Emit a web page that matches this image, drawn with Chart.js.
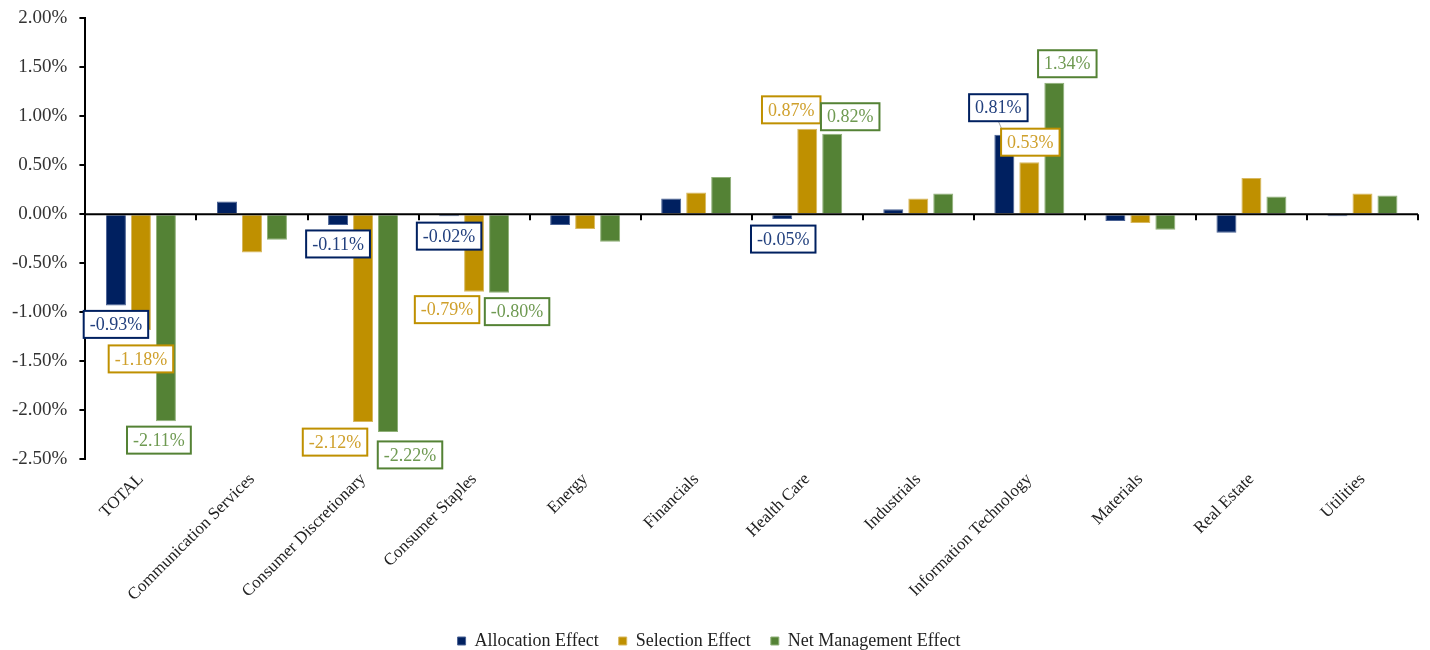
<!DOCTYPE html>
<html>
<head>
<meta charset="utf-8">
<script src="https://cdn.jsdelivr.net/npm/chart.js@4.4.1/dist/chart.umd.min.js"></script>
<style>
  html, body { margin: 0; padding: 0; background: #fff; }
  #wrap { width: 1430px; height: 650px; position: relative; }
</style>
</head>
<body>
<div id="wrap"><canvas id="attrChart"></canvas></div>
<script>
const sectors = ["TOTAL", "Communication Services", "Consumer Discretionary", "Consumer Staples",
    "Energy", "Financials", "Health Care", "Industrials", "Information Technology",
    "Materials", "Real Estate", "Utilities"];

const allocation = [-0.93, 0.13, -0.11, -0.02, -0.11, 0.16, -0.05, 0.05, 0.81, -0.07, -0.19, -0.02];
const selection  = [-1.18, -0.39, -2.12, -0.79, -0.15, 0.22, 0.87, 0.16, 0.53, -0.09, 0.37, 0.21];
const netEffect  = [-2.11, -0.26, -2.22, -0.80, -0.28, 0.38, 0.82, 0.21, 1.34, -0.16, 0.18, 0.19];

const yTicks = [2.0, 1.5, 1.0, 0.5, 0.0, -0.5, -1.0, -1.5, -2.0, -2.5];

const NAVY = "#002060", GOLD = "#BF9000", GREEN = "#548235";
const FONT = "'Liberation Serif', 'Times New Roman', serif";

// which bars get a boxed value label, and where the box sits relative to the bar tip
const callouts = [
    // [dataset, category, dx, dy]
    [0, 0, 0, 19], [1, 0, 0, 29], [2, 0, -7, 19],
    [0, 2, 0, 19], [1, 2, -28, 20], [2, 2, 22, 23],
    [0, 3, 0, 20], [1, 3, -27, 18], [2, 3, 18, 19],
    [0, 6, 1, 20], [1, 6, -16, -19], [2, 6, 18, -17],
    [0, 8, -6, -27], [1, 8, 1, -20], [2, 8, 13, -19]
];
const labelText = ["#22407e", "#cfa02c", "#6f9a52"];

const calloutPlugin = {
    id: "callouts",
    afterLayout(chart) {
        // nudge the legend down towards the bottom edge
        chart.legend.top += 5;
        chart.legend.bottom += 5;
    },
    afterDatasetsDraw(chart) {
        const ctx = chart.ctx;
        const x = chart.scales.x, y = chart.scales.y;
        const y0 = y.getPixelForValue(0);

        // zero line with category tick marks
        ctx.save();
        ctx.strokeStyle = "#000";
        ctx.lineWidth = 2;
        ctx.beginPath();
        ctx.moveTo(x.left, y0);
        ctx.lineTo(x.right, y0);
        const step = (x.right - x.left) / sectors.length;
        for (let i = 1; i <= sectors.length; i++) {
            const tx = Math.round(x.left + i * step);
            ctx.moveTo(tx, y0);
            ctx.lineTo(tx, y0 + 6);
        }
        ctx.stroke();

        ctx.font = "18px " + FONT;
        ctx.textAlign = "center";
        ctx.textBaseline = "middle";
        callouts.forEach(([ds, idx, dx, dy]) => {
            const bar = chart.getDatasetMeta(ds).data[idx];
            const val = chart.data.datasets[ds].data[idx];
            const txt = val.toFixed(2) + "%";
            const w = ctx.measureText(txt).width + 12;
            const h = 27;
            const cx = bar.x + dx, cy = bar.y + dy;

            if (ds === 0 && idx === 8) {
                // short leader from the box down to the bar
                ctx.strokeStyle = "#a6a6a6";
                ctx.lineWidth = 1;
                ctx.beginPath();
                ctx.moveTo(cx, cy + h / 2);
                ctx.lineTo(bar.x, bar.y);
                ctx.stroke();
            }

            ctx.fillStyle = "#fff";
            ctx.fillRect(cx - w / 2, cy - h / 2, w, h);
            ctx.strokeStyle = chart.data.datasets[ds].backgroundColor;
            ctx.lineWidth = 2;
            ctx.strokeRect(cx - w / 2, cy - h / 2, w, h);
            ctx.fillStyle = labelText[ds];
            ctx.fillText(txt, cx, cy + 1);
        });
        ctx.restore();
    }
};

const ctx = document.getElementById("attrChart").getContext("2d");
new Chart(ctx, {
    type: "bar",
    data: {
        labels: sectors,
        datasets: [
            { label: "Allocation Effect", data: allocation, backgroundColor: NAVY, borderColor: "#4a6294", borderWidth: 1 },
            { label: "Selection Effect", data: selection, backgroundColor: GOLD, borderColor: "#d8b860", borderWidth: 1 },
            { label: "Net Management Effect", data: netEffect, backgroundColor: GREEN, borderColor: "#8fb078", borderWidth: 1 }
        ]
    },
    options: {
        responsive: true,
        maintainAspectRatio: false,
        animation: false,
        categoryPercentage: 0.675,
        barPercentage: 0.8,
        layout: { padding: { top: 18, right: 12, left: 0, bottom: -5 } },
        plugins: {
            legend: {
                position: "bottom",
                labels: {
                    boxWidth: 8, boxHeight: 8, padding: 20,
                    color: "#222", font: { family: FONT, size: 18 }
                }
            },
            tooltip: { enabled: false }
        },
        scales: {
            x: {
                grid: { display: false },
                border: { display: false },
                ticks: {
                    minRotation: 45, maxRotation: 45, autoSkip: false, padding: 2,
                    color: "#222", font: { family: FONT, size: 17 }
                }
            },
            y: {
                min: -2.5, max: 2.0,
                afterBuildTicks: axis => { axis.ticks = yTicks.map(v => ({ value: v })); },
                // let the layout padding alone decide where the top tick sits
                afterFit: axis => { axis.paddingTop = 0; },
                grid: { drawOnChartArea: false, drawTicks: true, tickLength: 6, color: "#000", lineWidth: 2 },
                border: { display: true, color: "#000", width: 2 },
                ticks: {
                    color: "#333", padding: 12, font: { family: FONT, size: 19 },
                    callback: v => v.toFixed(2) + "%"
                }
            }
        }
    },
    plugins: [calloutPlugin]
});
</script>
</body>
</html>
